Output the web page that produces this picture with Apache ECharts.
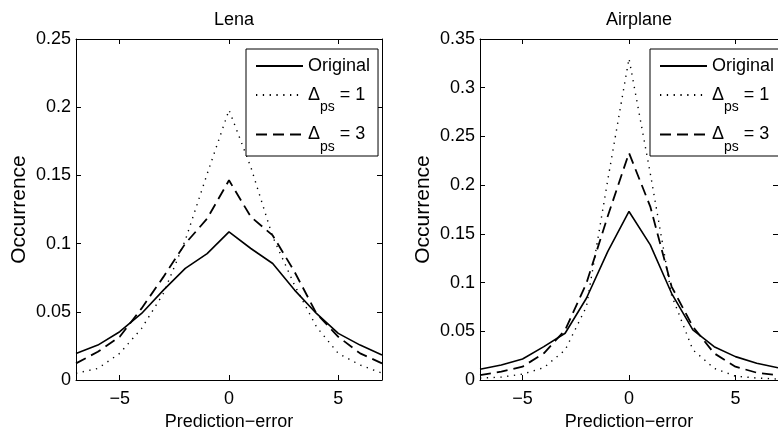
<!DOCTYPE html>
<html><head><meta charset="utf-8">
<script src="https://cdn.jsdelivr.net/npm/echarts@6/dist/echarts.min.js"></script>
<style>html,body{margin:0;padding:0;background:#fff}#c{width:778px;height:436px}</style>
</head><body><div id="c"></div>
<script>
// ---- data ----
const errors = [-7, -6, -5, -4, -3, -2, -1, 0, 1, 2, 3, 4, 5, 6, 7];
const seriesNames = ['Original', 'Δps = 1', 'Δps = 3'];
const lenaOriginal = [0.0195, 0.0256, 0.0354, 0.0488, 0.0659, 0.0818, 0.0927, 0.1086, 0.0964, 0.0854, 0.0659, 0.0488, 0.0342, 0.0256, 0.0183];
const lenaDelta1   = [0.0049, 0.0085, 0.0195, 0.0378, 0.0635, 0.1025, 0.151, 0.198, 0.156, 0.105, 0.0695, 0.039, 0.0195, 0.011, 0.005];
const lenaDelta3   = [0.0122, 0.0207, 0.0317, 0.0525, 0.0756, 0.1, 0.1183, 0.1464, 0.1196, 0.106, 0.0793, 0.0488, 0.0317, 0.0195, 0.0122];
const airOriginal  = [0.011, 0.0154, 0.0216, 0.0342, 0.048, 0.0839, 0.1318, 0.173, 0.1387, 0.089, 0.0514, 0.0342, 0.024, 0.0171, 0.0125];
const airDelta1    = [0.002, 0.003, 0.006, 0.0127, 0.0308, 0.0753, 0.205, 0.33, 0.212, 0.087, 0.031, 0.012, 0.004, 0.002, 0.001];
const airDelta3    = [0.005, 0.0086, 0.0137, 0.0274, 0.0514, 0.0993, 0.168, 0.233, 0.178, 0.0959, 0.0548, 0.0274, 0.0137, 0.0075, 0.005];
const xTicks = [-5, 0, 5];
const titles = ['Lena', 'Airplane'];
const yMax = [0.25, 0.35];
const xLabel = 'Prediction−error';
const yLabel = 'Occurrence';

// ---- styling ----
const FONT = "'Liberation Sans', Arial, sans-serif";
const FS = 18;
const grids = [
  {left: 76, right: 396, top: 39, bottom: 56},
  {left: 480, right: -10, top: 39, bottom: 56}
];
const styles = [
  {type: 'solid', width: 1.6},
  {type: [1.3, 5.5], width: 1.4},
  {type: [11, 6], width: 1.8}
];
const pair = arr => errors.map((x, i) => [x, arr[i]]);
const fmtX = v => v < 0 ? '−' + Math.abs(v) : String(v);

const xAxes = [], yAxes = [], series = [], legends = [], titleOpts = [];
const datasets = [[lenaOriginal, lenaDelta1, lenaDelta3], [airOriginal, airDelta1, airDelta3]];
const legendLeft = [246, 650];

grids.forEach((g, gi) => {
  const centerX = g.left + (778 - g.left - g.right) / 2;
  titleOpts.push({
    text: titles[gi], left: centerX, top: 6, textAlign: 'center',
    textStyle: {fontFamily: FONT, fontSize: FS, fontWeight: 'normal', color: '#000'}
  });
  const tick = {show: true, inside: true, length: 5, customValues: xTicks, lineStyle: {color: '#000', width: 1}};
  xAxes.push({
    type: 'value', gridIndex: gi, min: -7, max: 7, position: 'bottom',
    axisLine: {show: true, onZero: false, lineStyle: {color: '#000', width: 1}},
    axisTick: tick,
    axisLabel: {customValues: xTicks, formatter: fmtX, fontFamily: FONT, fontSize: FS, color: '#000', margin: 10},
    splitLine: {show: false},
    name: xLabel, nameLocation: 'middle', nameGap: 33,
    nameTextStyle: {fontFamily: FONT, fontSize: FS, color: '#000'}
  });
  xAxes.push({
    type: 'value', gridIndex: gi, min: -7, max: 7, position: 'top',
    axisLine: {show: true, onZero: false, lineStyle: {color: '#000', width: 1}},
    axisTick: tick, axisLabel: {show: false}, splitLine: {show: false}
  });
  const ytick = {show: true, inside: true, length: 5, lineStyle: {color: '#000', width: 1}};
  yAxes.push({
    type: 'value', gridIndex: gi, min: 0, max: yMax[gi], interval: 0.05, position: 'left',
    axisLine: {show: true, onZero: false, lineStyle: {color: '#000', width: 1}},
    axisTick: ytick,
    axisLabel: {fontFamily: FONT, fontSize: FS, color: '#000', margin: 5},
    splitLine: {show: false},
    name: yLabel, nameLocation: 'middle', nameGap: 46,
    nameTextStyle: {fontFamily: FONT, fontSize: 21, color: '#000'}
  });
  yAxes.push({
    type: 'value', gridIndex: gi, min: 0, max: yMax[gi], interval: 0.05, position: 'right',
    axisLine: {show: true, onZero: false, lineStyle: {color: '#000', width: 1}},
    axisTick: ytick, axisLabel: {show: false}, splitLine: {show: false}
  });
  datasets[gi].forEach((arr, si) => {
    series.push({
      type: 'line', name: seriesNames[si], xAxisIndex: gi * 2, yAxisIndex: gi * 2,
      data: pair(arr), symbol: 'none', showSymbol: false,
      lineStyle: {color: '#000', width: styles[si].width, type: styles[si].type, cap: 'butt'},
      itemStyle: {color: '#000'},
      animation: false, z: 3 - si
    });
  });
  legends.push({
    orient: 'vertical', left: legendLeft[gi], top: 49,
    data: seriesNames, selectedMode: false,
    itemWidth: 47, itemHeight: 14, itemGap: 11,
    padding: [8, 8, 2, 9],
    borderColor: '#000', borderWidth: 1, backgroundColor: '#fff',
    itemStyle: {opacity: 0, color: 'rgba(0,0,0,0)', borderWidth: 0},
    formatter: name => {
      if (name === 'Original') return '{t|Original}';
      const n = name.split('= ')[1];
      return '{t|Δ}{s|ps}{t| = ' + n + '}';
    },
    textStyle: {
      fontFamily: FONT, fontSize: FS, color: '#000',
      rich: {
        t: {fontFamily: FONT, fontSize: FS, color: '#000', lineHeight: 24},
        s: {fontFamily: FONT, fontSize: 14, color: '#000', padding: [25, 0, 0, 0]}
      }
    }
  });
});

const chart = echarts.init(document.getElementById('c'), null, {renderer: 'canvas'});
chart.setOption({
  animation: false,
  backgroundColor: '#fff',
  title: titleOpts,
  grid: grids.map(g => Object.assign({containLabel: false}, g)),
  xAxis: xAxes, yAxis: yAxes,
  legend: legends,
  series: series
});
</script>
</body></html>
